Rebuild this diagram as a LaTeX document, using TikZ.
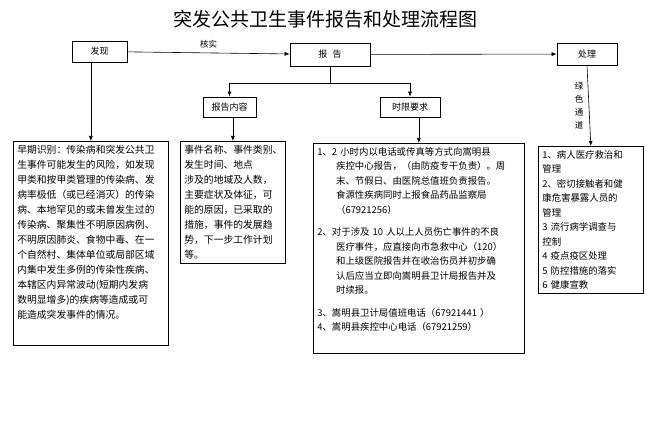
\documentclass[tikz,border=0pt]{standalone}
\usepackage{fontspec}
\setmainfont{Noto Sans CJK SC}
\usetikzlibrary{arrows.meta}
\begin{document}
\begin{tikzpicture}[x=1pt,y=-1pt,
  box/.style={draw,line width=0.7pt,minimum height=21pt,font=\fontsize{9}{10}\selectfont,inner sep=0pt},
  tbox/.style={draw,line width=0.7pt,anchor=north west,align=left,inner sep=4pt,font=\fontsize{9.8}{15}\selectfont},
  arr/.style={-{Latex[length=5pt,width=4pt]},line width=0.6pt},
  ln/.style={line width=0.6pt}]
\useasboundingbox (0,0) rectangle (650,435);
\node (title) at (325,19) {\fontsize{19}{22}\selectfont 突发公共卫生事件报告和处理流程图};
\node[box,minimum width=55pt] (fx) at (99.5,51.5) {发现};
\node[box,minimum width=80pt,minimum height=23pt] (bg) at (330,54.5) {报\hspace{0.6em}告};
\node[box,minimum width=60pt,minimum height=22pt] (cl) at (587,54) {处理};
\node[box,minimum width=53pt,minimum height=20pt] (nr) at (229.5,107) {报告内容};
\node[box,minimum width=60pt,minimum height=20pt] (sx) at (410,107) {时限要求};
\node[tbox,text width=147pt] (early) at (13,141) {早期识别：传染病和突发公共卫\\生事件可能发生的风险，如发现\\甲类和按甲类管理的传染病、发\\病率极低（或已经消灭）的传染\\病、本地罕见的或未曾发生过的\\传染病、聚集性不明原因病例、\\不明原因肺炎、食物中毒、在一\\个自然村、集体单位或局部区域\\内集中发生多例的传染性疾病、\\本辖区内异常波动(短期内发病\\数明显增多)的疾病等造成或可\\能造成突发事件的情况。\\[8pt]\mbox{}};
\node[tbox,text width=97pt] (cont) at (180,141) {事件名称、事件类别、\\发生时间、地点\\涉及的地域及人数，\\主要症状及体征，可\\能的原因，已采取的\\措施，事件的发展趋\\势，下一步工作计划\\等。};
\node[tbox,text width=203pt,font=\fontsize{9.4}{14.5}\selectfont] (time) at (313,143) {1、2 小时内以电话或传真等方式向嵩明县\\\hspace{2em}疾控中心报告，（由防疫专干负责）。周\\\hspace{2em}末、节假日、由医院总值班负责报告。\\\hspace{2em}食源性疾病同时上报食品药品监察局\\\hspace{2em}（67921256）\\[8pt]2、对于涉及 10 人以上人员伤亡事件的不良\\\hspace{2em}医疗事件，应直接向市急救中心（120）\\\hspace{2em}和上级医院报告并在收治伤员并初步确\\\hspace{2em}认后应当立即向嵩明县卫计局报告并及\\\hspace{2em}时续报。\\[8pt]3、嵩明县卫计局值班电话（67921441 ）\\4、嵩明县疾控中心电话（67921259）\\[4pt]\mbox{}};
\node[tbox,text width=97pt,font=\fontsize{9.4}{14.5}\selectfont] (proc) at (538,146) {1、病人医疗救治和\\管理\\2、密切接触者和健\\康危害暴露人员的\\管理\\3 流行病学调查与\\控制\\4 疫点疫区处理\\5 防控措施的落实\\6 健康宣教};
\draw[arr] (fx) -- node[above=1pt,font=\fontsize{8.5}{9}\selectfont]{核实} (bg);
\draw[arr] (bg) -- (cl);
\draw[arr] (fx.south -| early.north) -- (early.north);
\draw[ln] (bg.south) -- (330,83) coordinate (j);
\draw[arr] (j) -| (nr.north);
\draw[arr] (j) -| (sx.north);
\draw[arr] (nr.south -| cont.north) -- (cont.north);
\draw[arr] (sx.south -| time.north) -- (time.north);
\draw[arr] (cl.south) -- node[left=2pt,align=center,font=\fontsize{8.5}{13}\selectfont]{绿\\色\\通\\道} (proc.north);
\end{tikzpicture}
\end{document}
